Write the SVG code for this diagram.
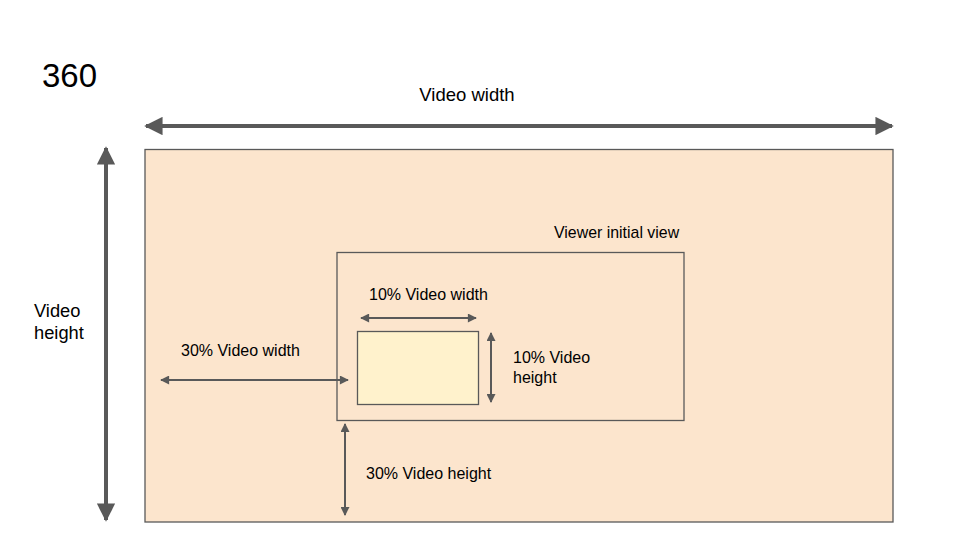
<svg xmlns="http://www.w3.org/2000/svg" width="960" height="540" viewBox="0 0 960 540">
<style>
text{font-family:"Liberation Sans",Arial,sans-serif;fill:#000}
.box{stroke:#595959;stroke-width:1.3}
.big{stroke:#595959;stroke-width:4;fill:none}
.thin{stroke:#595959;stroke-width:2;fill:none}
</style>
<defs>
<marker id="hb" viewBox="0 0 10 10" refX="9" refY="5" markerWidth="6.5" markerHeight="4.6" markerUnits="strokeWidth" orient="auto-start-reverse">
<path d="M0,0L10,5L0,10z" fill="#595959"/>
</marker>
<marker id="hs" viewBox="0 0 10 10" refX="9" refY="5" markerWidth="6" markerHeight="4.5" markerUnits="strokeWidth" orient="auto-start-reverse">
<path d="M0,0L10,5L0,10z" fill="#595959"/>
</marker>
</defs>
<rect width="960" height="540" fill="#fff"/>
<text x="42" y="87" font-size="33">360</text>
<g id="video">
<rect class="box" x="145" y="149.5" width="748" height="372.5" fill="#fce5cd"/>
</g>
<g id="viewer">
<rect class="box" x="337" y="252.5" width="347" height="168" fill="#fce5cd"/>
<text x="554" y="238" font-size="15.9">Viewer initial view</text>
</g>
<g id="inner">
<rect class="box" x="357.5" y="331.5" width="121" height="73" fill="#fff2cc"/>
</g>
<g id="connectors">
<line class="big" x1="146" y1="126" x2="892" y2="126" marker-start="url(#hb)" marker-end="url(#hb)"/>
<line class="big" x1="106" y1="148" x2="106" y2="520" marker-start="url(#hb)" marker-end="url(#hb)"/>
<line class="thin" x1="361" y1="318" x2="476" y2="318" marker-start="url(#hs)" marker-end="url(#hs)"/>
<line class="thin" x1="491" y1="333" x2="491" y2="402" marker-start="url(#hs)" marker-end="url(#hs)"/>
<line class="thin" x1="161" y1="380" x2="348" y2="380" marker-start="url(#hs)" marker-end="url(#hs)"/>
<line class="thin" x1="345" y1="424" x2="345" y2="515" marker-start="url(#hs)" marker-end="url(#hs)"/>
</g>
<g id="labels" font-size="16">
<text x="467" y="101" font-size="18.5" text-anchor="middle">Video width</text>
<text x="34" y="317" font-size="18.3">Video</text>
<text x="34" y="339" font-size="18.3">height</text>
<text x="369" y="300">10% Video width</text>
<text x="181" y="356">30% Video width</text>
<text x="513" y="363">10% Video</text>
<text x="513" y="383">height</text>
<text x="366" y="479">30% Video height</text>
</g>
</svg>
